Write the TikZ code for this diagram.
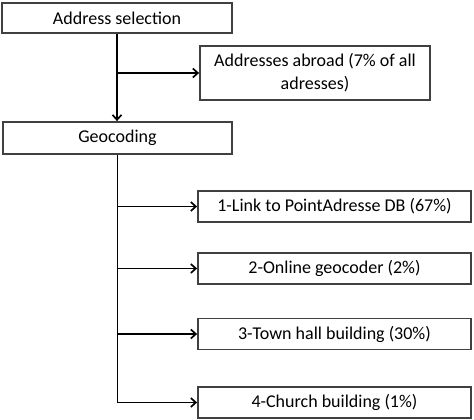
\documentclass[tikz,border=0pt]{standalone}
\usepackage{fontspec}
\setmainfont{Carlito}
\usepackage{tikz}
\usetikzlibrary{arrows.meta}

\begin{document}
\begin{tikzpicture}[x=1pt,y=-1pt,
	box/.style={draw=black!75,line width=1.8pt,fill=white,inner sep=0pt,align=center,font=\fontsize{18}{23}\selectfont},
	arr/.style={line width=1.7pt,-{Straight Barb[length=5pt,width=9pt]}}]
	\useasboundingbox (0,0) rectangle (474,420);
	\node[box,minimum width=230,minimum height=30] (sel) at (117,18) {Address selection};
	\node[box,minimum width=230,minimum height=54] (abroad) at (315,73) {Addresses abroad (7\% of all\\adresses)};
	\node[box,minimum width=229,minimum height=32] (geo) at (117.5,138) {Geocoding};
	\node[box,minimum width=273,minimum height=31] (link) at (334.5,206.5) {1-Link to PointAdresse DB (67\%)};
	\node[box,minimum width=273,minimum height=31] (online) at (334.5,268.5) {2-Online geocoder (2\%)};
	\node[box,minimum width=273,minimum height=31] (town) at (334.5,334) {3-Town hall building (30\%)};
	\node[box,minimum width=273,minimum height=31] (church) at (334.5,402.5) {4-Church building (1\%)};
	\draw[arr] (sel.south) -- (sel.south |- geo.north);
	\draw[arr] (sel.south |- abroad.west) -- (abroad.west);
	\draw[arr] (geo.south) |- (church.west);
	\draw[arr] (geo.south |- link.west) -- (link.west);
	\draw[arr] (geo.south |- online.west) -- (online.west);
	\draw[arr] (geo.south |- town.west) -- (town.west);
\end{tikzpicture}
\end{document}
